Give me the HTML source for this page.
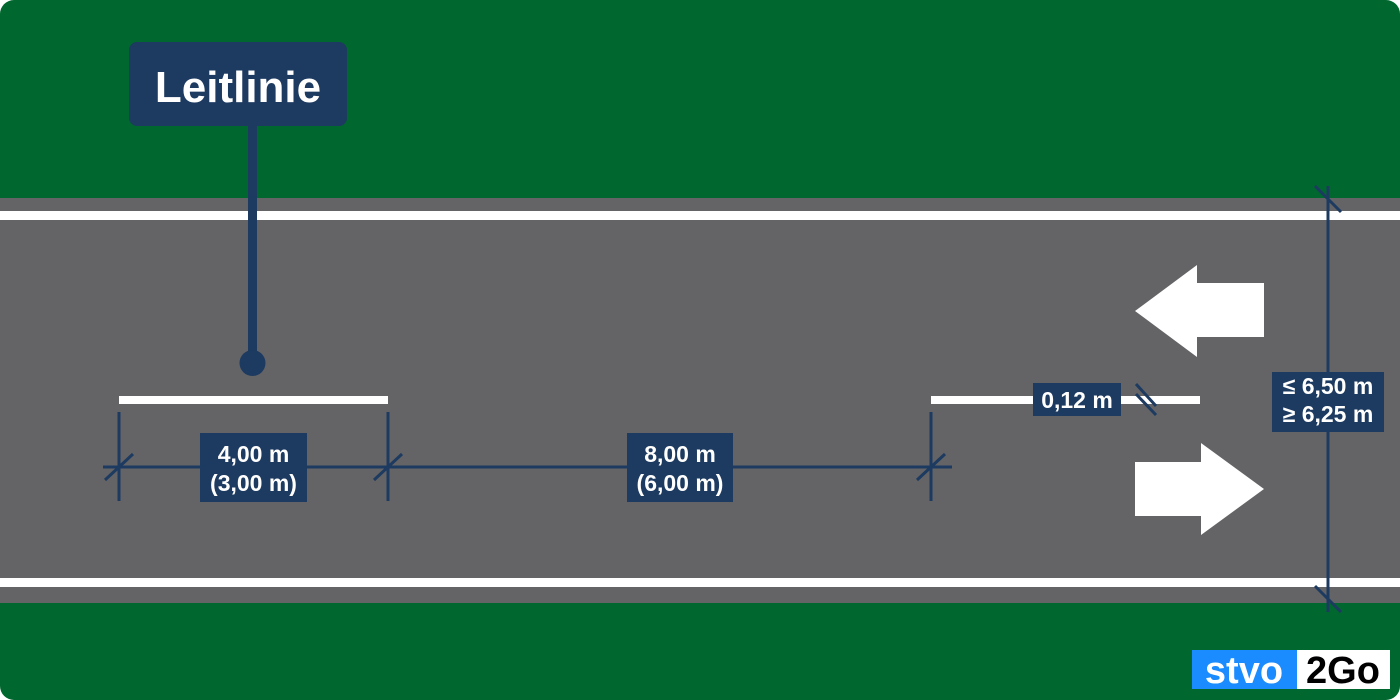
<!DOCTYPE html>
<html><head><meta charset="utf-8"><style>
html,body{margin:0;padding:0;background:#fff}
svg{display:block}
text{font-family:"Liberation Sans",sans-serif;font-weight:bold;fill:#fff}
</style></head><body>
<svg width="1400" height="700" viewBox="0 0 1400 700" xmlns="http://www.w3.org/2000/svg">
<defs><clipPath id="c"><rect x="0" y="0" width="1400" height="700" rx="14"/></clipPath></defs>
<g clip-path="url(#c)">
<rect x="0" y="0" width="1400" height="700" fill="#00682e"/>
<rect x="0" y="198" width="1400" height="405" fill="#646466"/>
<rect x="0" y="211" width="1400" height="9" fill="#fff"/>
<rect x="0" y="578" width="1400" height="9" fill="#fff"/>
</g>
<rect x="119" y="396" width="269" height="8" fill="#fff"/>
<rect x="931" y="396" width="269" height="8" fill="#fff"/>
<polygon points="1135,311 1197,265 1197,283 1264,283 1264,337 1197,337 1197,357" fill="#fff"/>
<polygon points="1264,489 1201,443 1201,462 1135,462 1135,516 1201,516 1201,535" fill="#fff"/>
<g stroke="#1d3a60" stroke-width="3" fill="none">
<line x1="103" y1="467" x2="952" y2="467"/>
<line x1="119" y1="412" x2="119" y2="501"/>
<line x1="388" y1="412" x2="388" y2="501"/>
<line x1="931" y1="412" x2="931" y2="501"/>
<line x1="105" y1="480" x2="133" y2="454"/>
<line x1="374" y1="480" x2="402" y2="454"/>
<line x1="917" y1="480" x2="945" y2="454"/>
<line x1="1328" y1="186" x2="1328" y2="612"/>
<line x1="1315" y1="186" x2="1341" y2="212"/>
<line x1="1315" y1="586" x2="1341" y2="612"/>
<line x1="1136" y1="384" x2="1156" y2="406"/>
<line x1="1136" y1="394" x2="1156" y2="415"/>
</g>
<rect x="200" y="433" width="107" height="69" fill="#1d3a60"/>
<text x="253.5" y="462" font-size="23" text-anchor="middle">4,00 m</text>
<text x="253.5" y="491" font-size="23" text-anchor="middle">(3,00 m)</text>
<rect x="627" y="433" width="106" height="69" fill="#1d3a60"/>
<text x="680" y="462" font-size="23" text-anchor="middle">8,00 m</text>
<text x="680" y="491" font-size="23" text-anchor="middle">(6,00 m)</text>
<rect x="1033" y="383" width="88" height="33" fill="#1d3a60"/>
<text x="1077" y="408" font-size="23" text-anchor="middle">0,12 m</text>
<rect x="1272" y="372" width="112" height="60" fill="#1d3a60"/>
<text x="1328" y="394" font-size="23" text-anchor="middle">≤ 6,50 m</text>
<text x="1328" y="422" font-size="23" text-anchor="middle">≥ 6,25 m</text>
<rect x="248" y="120" width="9" height="240" fill="#1d3a60"/>
<circle cx="252.5" cy="363" r="13" fill="#1d3a60"/>
<rect x="129" y="42" width="218" height="84" rx="8" fill="#1d3a60"/>
<text x="238" y="102" font-size="44" text-anchor="middle">Leitlinie</text>
<rect x="1192" y="650" width="198" height="39" fill="#fff"/>
<rect x="1192" y="650" width="105" height="39" fill="#1a8cff"/>
<text x="1244" y="683" font-size="38" text-anchor="middle">stvo</text>
<text x="1343" y="683" font-size="38" text-anchor="middle" style="fill:#000">2Go</text>
</svg>
</body></html>
